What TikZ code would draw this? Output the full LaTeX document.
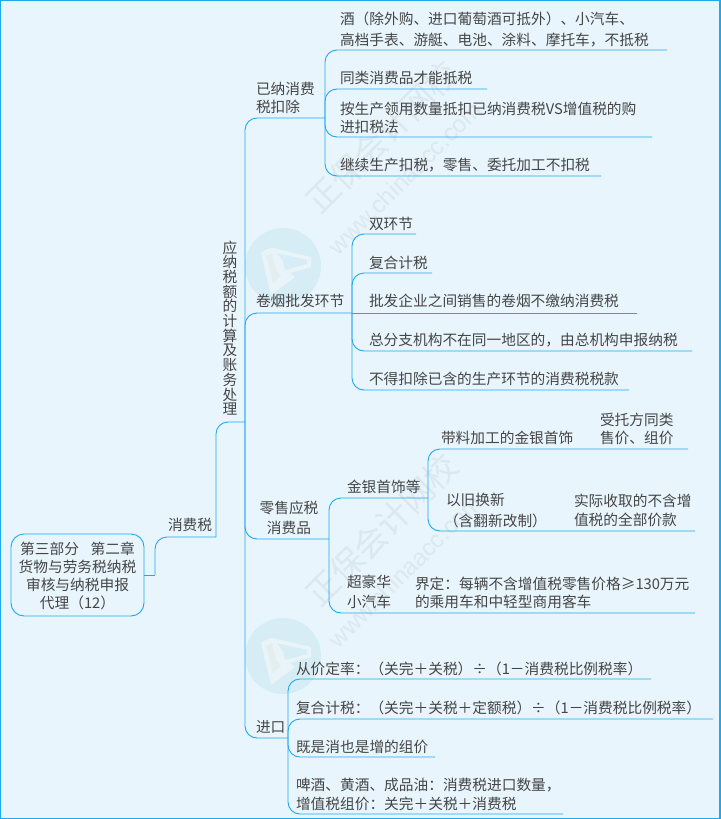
\documentclass[tikz,border=0pt]{standalone}
\usepackage{fontspec}
\setmainfont{Noto Sans CJK SC}
\newfontfamily\wmfont{Liberation Sans}
\newcommand\tf[1]{\fontsize{14.7}{#1}\selectfont}
\definecolor{bgc}{HTML}{E8F5FD}
\definecolor{linec}{HTML}{1FA9EC}
\definecolor{txtc}{HTML}{454545}
\definecolor{wmc}{HTML}{DCE7EE}
\definecolor{logoc}{HTML}{D6EDF5}
\definecolor{logow}{HTML}{E9F4F9}
\definecolor{logop}{HTML}{E3EEF0}
\tikzset{
  conn/.style={draw=linec,line width=0.9pt,rounded corners=12pt},
  straight/.style={draw=linec,line width=0.9pt},
  lbl/.style={inner sep=0pt,outer sep=0pt,text=txtc,anchor=west,align=left,font=\tf{#1}},
  lbl/.default=19,
  clbl/.style={inner sep=0pt,outer sep=0pt,text=txtc,anchor=center,align=center,font=\tf{#1}},
  rootbox/.style={draw=linec,line width=0.9pt,rounded corners=13pt,minimum width=133pt,minimum height=82pt,inner sep=0pt,text=txtc,align=center,font=\tf{18}},
  wmzh/.style={text=wmc,rotate=45,font=\fontsize{33}{33}\selectfont,inner sep=0pt},
  wmen/.style={text=wmc,rotate=45,font=\wmfont\fontsize{24}{24}\selectfont,inner sep=0pt},
}
\begin{document}
\begin{tikzpicture}[x=1pt,y=-1pt]
\useasboundingbox (0,0) rectangle (720,819);
\fill[bgc] (0,0) rectangle (720,819);
\draw[linec,line width=2pt] (0,0) rectangle (720,819);

% logos and watermarks
\foreach \dy in {0,390}{
  \begin{scope}[yshift=-\dy pt]
  \fill[logoc] (283,266) circle (38);
  \fill[logow] (261,253) .. controls (265,250) and (268,248) .. (273,248) -- (311,257) -- (311,267) -- (290,273) -- (295,277) -- (271,295) -- cycle;
  \fill[logoc] (277,253) -- (307,260) -- (307,264) -- (285,270) -- (283,261) -- cycle;
  \fill[logop] (266,256) -- (272,253) -- (276,270) -- (281,276) -- (273,283) -- cycle;
  \end{scope}
}
\node[wmzh] (wm1) at (382,137) {正保会计网校};
\node[wmen] (wm2) at (405,178) {www.chinaacc.com};
\node[wmzh] (wm3) at (382,530) {正保会计网校};
\node[wmen] (wm4) at (405,571) {www.chinaacc.com};

% root and spine
\node[rootbox] (root) at (77.5,575) {\rule{0pt}{15pt}第三部分\hspace{0.8em}第二章\\货物与劳务税纳税\\审核与纳税申报\\代理（12）};
\coordinate (p1) at (155,575);
\coordinate (p2) at (216,537);
\coordinate (p3) at (245,422);
\coordinate (b1) at (325,118);
\coordinate (b2) at (352,313);
\coordinate (b3) at (329,539);
\coordinate (b4) at (288,738);
\draw[straight] (root.east) -- (p1);
\draw[conn] (p1) |- (p2);
\draw[conn] (p2) |- (p3);
\draw[conn] (p3) |- (b1);
\draw[conn] (p3) |- (b2);
\draw[conn] (p3) |- (b3);
\draw[conn] (p3) |- (b4);

\node[lbl] (xfs) at (168,525) {消费税};
\node[clbl=14.7] (ynsj) at (230,328) {应\\纳\\税\\额\\的\\计\\算\\及\\账\\务\\处\\理};
\node[lbl=18] (yn) at (256,98) {已纳消费\\税扣除};
\node[lbl] (yy) at (256,301) {卷烟批发环节};
\node[clbl=20] (ls) at (289,518) {零售应税\\消费品};
\node[lbl] (jk) at (256,727) {进口};

% first group
\coordinate (a1) at (667,50);
\coordinate (a2) at (487,89);
\coordinate (a3) at (652,137);
\coordinate (a4) at (601,176);
\draw[conn] (b1) |- (a1);
\draw[conn] (b1) |- (a2);
\draw[conn] (b1) |- (a3);
\draw[conn] (b1) |- (a4);
\node[lbl=21] (at1) at (340,29) {酒（除外购、进口葡萄酒可抵外）、小汽车、\\高档手表、游艇、电池、涂料、摩托车，不抵税};
\node[lbl] (at2) at (340,78) {同类消费品才能抵税};
\node[lbl=18] (at3) at (340,118) {按生产领用数量抵扣已纳消费税VS增值税的购\\进扣税法};
\node[lbl] (at4) at (340,165) {继续生产扣税，零售、委托加工不扣税};

% second group
\coordinate (c1) at (416,234);
\coordinate (c2) at (432,273);
\coordinate (c3) at (637,313);
\coordinate (c4) at (692,351);
\coordinate (c5) at (629,390);
\draw[conn] (b2) |- (c1);
\draw[conn] (b2) |- (c2);
\draw[straight] (b2) -- (c3);
\draw[conn] (b2) |- (c4);
\draw[conn] (b2) |- (c5);
\node[lbl] (ct1) at (369,224) {双环节};
\node[lbl] (ct2) at (369,263) {复合计税};
\node[lbl] (ct3) at (369,301) {批发企业之间销售的卷烟不缴纳消费税};
\node[lbl] (ct4) at (369,340) {总分支机构不在同一地区的，由总机构申报纳税};
\node[lbl] (ct5) at (369,379) {不得扣除已含的生产环节的消费税税款};

% third group
\coordinate (d1) at (428,498);
\coordinate (d2) at (695,613);
\coordinate (e1) at (688,449);
\coordinate (e2) at (695,531);
\draw[conn] (b3) |- (d1);
\draw[conn] (b3) |- (d2);
\draw[conn] (d1) |- (e1);
\draw[conn] (d1) |- (e2);
\node[lbl] (dt1) at (347,487) {金银首饰等};
\node[lbl] (et1) at (441,438) {带料加工的金银首饰};
\node[lbl=18] (et2) at (600,428.5) {受托方同类\\售价、组价};
\node[lbl] (et3) at (446,500) {以旧换新};
\node[lbl] (et3b) at (444,521) {（含翻新改制）};
\node[lbl] (et4) at (574,510.5) {实际收取的不含增\\值税的全部价款};
\node[lbl=20] (dt2) at (347,592) {超豪华\\小汽车};
\node[lbl=18] (dt3) at (415,593) {界定：每辆不含增值税零售价格≥130万元\\的乘用车和中轻型商用客车};

% fourth group
\coordinate (f1) at (651,679);
\coordinate (f2) at (713,719);
\coordinate (f3) at (435,757);
\coordinate (f4) at (563,814);
\draw[conn] (b4) |- (f1);
\draw[conn] (b4) |- (f2);
\draw[conn] (b4) |- (f3);
\draw[conn] (b4) |- (f4);
\node[lbl] (ft1) at (296,669) {从价定率：（关完＋关税）÷（1－消费税比例税率）};
\node[lbl] (ft2) at (296,708) {复合计税：（关完＋关税＋定额税）÷（1－消费税比例税率）};
\node[lbl] (ft3) at (296,747) {既是消也是增的组价};
\node[lbl=19] (ft4) at (296,794.5) {啤酒、黄酒、成品油：消费税进口数量，\\增值税组价：关完＋关税＋消费税};
\end{tikzpicture}
\end{document}
